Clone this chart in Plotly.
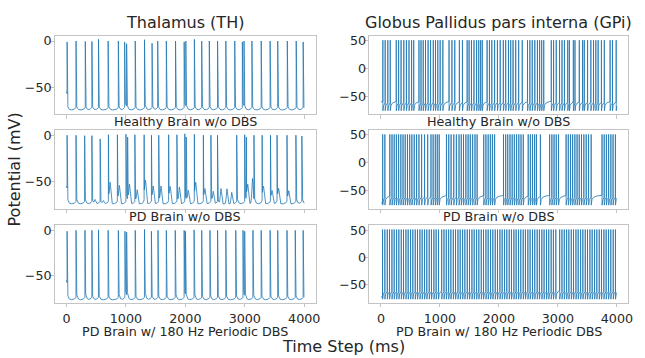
import numpy as np
import plotly.graph_objects as go

N_MS = 4000
t = np.arange(N_MS)

# ---------------- Thalamus (TH) spike times (ms) and spike peak values (mV) ----------------
TH_H_SPIKES = [11, 161, 317, 428, 539, 701, 873, 979, 1012, 1157, 1313, 1440, 1535, 1680, 1835, 1980,
               2008, 2152, 2275, 2403, 2542, 2681, 2831, 2959, 2987, 3120, 3276, 3426, 3554, 3715, 3865, 3982]
TH_H_PEAKS = [-1, 0, -0.5, -0.5, 1.8, 0, 0, -1, -3, 0, 1.4, -2.5, 0, 0, 0, -1,
              0, 1.8, 0, 0, 0, 0, 0, -1, 0, 0, 0, 0, 0, 0, 0, -1]
TH_H_AFTER = [-67, -67, -68, -67, -67, -66, -67, -62, -64, -67, -62, -66, -67, -67, -67, -64,
              -64, -67, -67, -66, -67, -67, -67, -63, -64, -67, -67, -67, -67, -67, -67, -67]

TH_PD_SPIKES = [11, 161, 306, 428, 567, 706, 857, 1001, 1029, 1151, 1307, 1430, 1552, 1719, 1858, 1991,
                2014, 2152, 2303, 2430, 2541, 2864, 2998, 3026, 3154, 3292, 3432, 3543, 3710, 3860, 3960]
TH_PD_PEAKS = [0, 0, -0.5, -0.5, -4, 0.5, 0.5, 1, -2, 0.5, 0.5, 0, 0, 0.5, 0.5, 1.5,
               -2, 1, 0, 0, 0, 0, 0.5, -2, 0, 0, 0, 0, 0, 0, -1]
TH_PD_AFTER = [-64, -64, -64, -65, -68, -62, -62, -60, -62, -64, -61, -62, -63, -62, -63, -62,
               -62, -62, -63, -62, -64, -63, -61, -62, -62, -63, -63, -62, -63, -64, -64]
TH_PD_BUMP_T = [480, 620, 735, 890, 1060, 1190, 1330, 1460, 1590, 1745, 1900, 2050, 2175, 2330,
                2470, 2600, 2700, 2780, 3050, 3130, 3315, 3460, 3570, 3740]
TH_PD_BUMP_V = [-70, -71, -53, -56, -55, -60, -52, -57, -56, -58, -57, -61, -54, -60,
                -62, -58, -58, -62, -56, -48, -58, -62, -60, -62]

TH_D_SPIKES = [11, 161, 311, 428, 539, 701, 873, 984, 1012, 1157, 1313, 1429, 1540, 1680, 1830, 1980,
               2002, 2147, 2275, 2414, 2542, 2681, 2848, 2970, 2998, 3137, 3276, 3426, 3554, 3710, 3849, 3982]
TH_D_PEAKS = [-1, 0, 0, 0, 0.5, 0, 0, -1, -2, 0, 1, -1, 0, 0, 0, 0,
              -1, 0.5, 0, 0, 0, 0, 0, 0, -1, 0, 0, 0, 0, 0, 0, 0]
TH_D_AFTER = [-66, -63, -62, -67, -67, -67, -63, -60, -58, -67, -59, -67, -67, -67, -63, -62,
              -62, -63, -67, -67, -66, -67, -66, -64, -62, -64, -67, -67, -66, -67, -66, -68]

# ---------------- GPi spike times (ms) ----------------
GPI_H_SPIKES = [33, 72, 117, 158,
                260, 300, 342, 388, 432, 476, 520, 556,
                645, 680, 717, 756, 800, 842, 888, 925, 964, 1004, 1050,
                1155, 1204, 1252, 1330, 1382, 1462, 1495, 1535, 1578, 1622, 1658, 1690, 1718,
                1800, 1840, 1880, 1927, 1975, 2022, 2075, 2115, 2162, 2200, 2240, 2285, 2335, 2396,
                2485, 2525, 2565, 2609, 2653, 2690, 2725, 2760,
                2888, 2927, 2972, 3028, 3070, 3111, 3167, 3195, 3262, 3290, 3363, 3419, 3447, 3503,
                3559, 3604, 3643, 3682, 3738, 3787,
                3885, 3925, 3988]

GPI_PD_SPIKES = [30, 67,
                 151, 188, 225, 262, 300, 338, 375, 412, 450, 488, 525, 565, 605, 645, 690, 740, 793,
                 849, 885, 922, 955, 988,
                 1111, 1150, 1190, 1235, 1279,
                 1324, 1362, 1400, 1440, 1478, 1515, 1555, 1595, 1631,
                 1743, 1780, 1818, 1855, 1890, 1927,
                 2078, 2115, 2150, 2188, 2225, 2262, 2300, 2338, 2375, 2413,
                 2497, 2533, 2570, 2605, 2636, 2703,
                 2860, 2898, 2935, 2972, 3011,
                 3139, 3176, 3213, 3250, 3288, 3325, 3362, 3400, 3440, 3480, 3520, 3564,
                 3748, 3785, 3822, 3860, 3898, 3935, 3975]

GPI_D_SPIKES = [28, 67, 108, 146, 187, 225, 266, 304, 345, 383, 424, 462, 503, 541, 582, 620, 661, 699,
                740, 778, 819, 857, 898, 936, 977, 1030, 1069, 1108, 1148, 1186, 1227, 1265, 1306, 1344,
                1385, 1423, 1464, 1502, 1543, 1581, 1622, 1660, 1701, 1739, 1780, 1818, 1859, 1897,
                1938, 1976, 2017, 2055, 2096, 2134, 2175, 2213, 2254, 2292, 2333, 2371, 2412, 2450,
                2491, 2529, 2570, 2608, 2649, 2687, 2728, 2766, 2807, 2845, 2886, 2924, 2965, 3030,
                3069, 3108, 3148, 3186, 3227, 3265, 3306, 3344, 3385, 3423, 3464, 3502, 3543, 3581,
                3622, 3660, 3701, 3739, 3780, 3818, 3859, 3897, 3938, 3976]
GPI_PEAK = 51.0

ROW_LABELS = ["Healthy Brain w/o DBS", "PD Brain w/o DBS", "PD Brain w/ 180 Hz Periodic DBS"]
COL_TITLES = ["Thalamus (TH)", "Globus Pallidus pars interna (GPi)"]
X_TICKS = [0, 1000, 2000, 3000, 4000]
TH_TICKS = [0, -50]
GPI_TICKS = [50, 0, -50]


def th_trace(spikes, peaks, after, base, v0, bump_t=(), bump_v=()):
    sp = np.array(spikes)
    last = np.searchsorted(sp, t, side="right") - 1
    nxt = last + 1
    has_last = last >= 0
    dt = np.where(has_last, t - sp[np.clip(last, 0, None)], 0)
    aft = np.array(after, dtype=float)[np.clip(last, 0, None)]
    v = np.where(has_last, base + (aft - base) * np.exp(-dt / 16.0), v0 + (base - v0) * (t / 60.0))
    has_next = nxt < len(sp)
    dn = np.where(has_next, sp[np.clip(nxt, 0, len(sp) - 1)] - t, 1e9)
    v = v + 3.0 * np.exp(-dn / 25.0)
    for bt, bv in zip(bump_t, bump_v):
        v = v + (bv - base) * np.exp(-0.5 * ((t - bt) / 11.0) ** 2)
    v[sp] = np.array(peaks, dtype=float)
    return v


def gpi_trace(spikes, v0=-62.0):
    sp = np.array(spikes)
    last = np.searchsorted(sp, t, side="right") - 1
    dt = np.where(last >= 0, t - sp[np.clip(last, 0, None)], 0)
    v = -58.0 - 12.0 * np.exp(-dt / 8.0) - 7.5 * np.exp(-dt / 60.0)
    v = np.where(last >= 0, v, v0)
    v[sp] = GPI_PEAK
    return v


traces = [
    th_trace(TH_H_SPIKES, TH_H_PEAKS, TH_H_AFTER, -75.0, -57.0),
    gpi_trace(GPI_H_SPIKES, -60.0),
    th_trace(TH_PD_SPIKES, TH_PD_PEAKS, TH_PD_AFTER, -74.5, -57.0, TH_PD_BUMP_T, TH_PD_BUMP_V),
    gpi_trace(GPI_PD_SPIKES, -72.0),
    th_trace(TH_D_SPIKES, TH_D_PEAKS, TH_D_AFTER, -76.5, -57.0),
    gpi_trace(GPI_D_SPIKES, -72.0),
]

W, H = 645, 358
COL_X = [(55, 318), (372, 633)]
ROW_Y = [(33.3, 112.3), (128.3, 207.5), (224.3, 302.3)]
FONT = "DejaVu Sans"
SPINE = "#c4c4c4"
TXT = "#262626"

fig = go.Figure()
layout = dict(width=W, height=H, margin=dict(l=0, r=0, t=0, b=0), autosize=False,
              paper_bgcolor="white", plot_bgcolor="white", showlegend=False,
              font=dict(family=FONT, size=12.7, color=TXT))
annotations = []
for r in range(3):
    for c in range(2):
        k = r * 2 + c + 1
        sx = "" if k == 1 else str(k)
        fig.add_trace(go.Scatter(x=t, y=traces[k - 1], mode="lines",
                                 line=dict(color="#1f77b4", width=0.8),
                                 xaxis="x" + sx, yaxis="y" + sx, hoverinfo="skip"))
        x0, x1 = COL_X[c]
        y0, y1 = ROW_Y[r]
        layout["xaxis" + sx] = dict(domain=[x0 / W, x1 / W], anchor="y" + sx, range=[-200, 4190],
                                    tickvals=X_TICKS, showticklabels=(r == 2), ticks="outside",
                                    ticklen=3.5, tickcolor=SPINE, tickwidth=1,
                                    showline=True, mirror=True, linecolor=SPINE, linewidth=1,
                                    showgrid=False, zeroline=False,
                                    tickfont=dict(family=FONT, size=12.7, color=TXT))
        yr = [-79.6, 5.4] if c == 0 else [-82.5, 58.5]
        layout["yaxis" + sx] = dict(domain=[1 - y1 / H, 1 - y0 / H], anchor="x" + sx, range=yr,
                                    tickvals=TH_TICKS if c == 0 else GPI_TICKS,
                                    ticks="outside", ticklen=3.5, tickcolor=SPINE, tickwidth=1,
                                    ticklabelstandoff=-4,
                                    showline=True, mirror=True, linecolor=SPINE, linewidth=1,
                                    showgrid=False, zeroline=False,
                                    tickfont=dict(family=FONT, size=12.7, color=TXT))
        ly = y1 + (7.3 if r < 2 else 29.4)
        annotations.append(dict(text=ROW_LABELS[r], x=(x0 + x1) / 2 / W, y=1 - ly / H,
                                xref="paper", yref="paper", showarrow=False,
                                xanchor="center", yanchor="middle",
                                font=dict(family=FONT, size=12.7, color=TXT)))

for c in range(2):
    x0, x1 = COL_X[c]
    annotations.append(dict(text=COL_TITLES[c], x=(x0 + x1) / 2 / W, y=1 - 19.3 / H,
                            xref="paper", yref="paper", showarrow=False,
                            xanchor="center", yanchor="middle",
                            font=dict(family=FONT, size=16, color=TXT)))
annotations.append(dict(text="Time Step (ms)", x=346 / W, y=1 - 346.5 / H, xref="paper", yref="paper",
                        showarrow=False, xanchor="center", yanchor="middle",
                        font=dict(family=FONT, size=16, color=TXT)))
annotations.append(dict(text="Potential (mV)", x=15 / W, y=1 - 168 / H, xref="paper", yref="paper",
                        showarrow=False, xanchor="center", yanchor="middle", textangle=-90,
                        font=dict(family=FONT, size=16, color=TXT)))
layout["annotations"] = annotations
fig.update_layout(**layout)
fig.write_html("out.html")
